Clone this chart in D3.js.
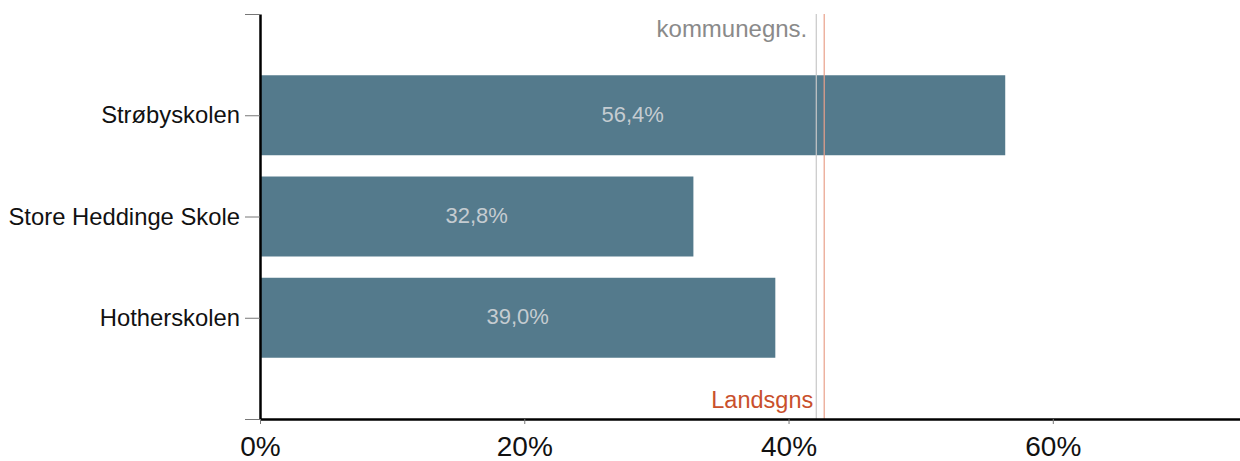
<!DOCTYPE html>
<html><head><meta charset="utf-8">
<script src="https://cdn.jsdelivr.net/npm/d3@7"></script>
<style>body{margin:0;background:#fff}svg{display:block;font-family:"Liberation Sans",Arial,sans-serif}</style>
</head><body><svg id="c" width="1240" height="461"></svg>
<script>
const categories = ["Strøbyskolen", "Store Heddinge Skole", "Hotherskolen"];
const values = [56.4, 32.8, 39.0];
const valueLabels = ["56,4%", "32,8%", "39,0%"];
const xTicks = [0, 20, 40, 60];
const refNames = ["kommunegns.", "Landsgns"];
const refValues = [42.1, 42.7];

const svg = d3.select("#c");
const x = d3.scaleLinear().domain([0, 75]).range([260, 1251]);
const y = d3.scaleLinear().domain([0, 4]).range([14, 419]);
const step = y(1) - y(0);
const bh = step * 0.79;

// bars
svg.selectAll("rect.bar").data(values).enter().append("rect")
  .attr("x", x(0)).attr("y", (d, i) => y(i + 1) - bh / 2)
  .attr("width", d => x(d) - x(0)).attr("height", bh)
  .attr("fill", "#547a8c");

svg.selectAll("text.val").data(values).enter().append("text")
  .attr("x", d => (x(0) + x(d)) / 2).attr("y", (d, i) => y(i + 1) - 1)
  .attr("dy", "0.35em").attr("text-anchor", "middle")
  .attr("font-size", 22).attr("fill", "#c5ccd1")
  .text((d, i) => valueLabels[i]);

// reference lines
const refColors = ["#c8c8c8", "#e9a08a"];
svg.selectAll("line.ref").data(refValues).enter().append("line")
  .attr("x1", d => x(d)).attr("x2", d => x(d))
  .attr("y1", y(0)).attr("y2", y(4))
  .attr("stroke", (d, i) => refColors[i]).attr("stroke-width", 1.2);
svg.append("text").attr("x", x(refValues[0]) - 9).attr("y", 37)
  .attr("text-anchor", "end").attr("font-size", 24).attr("fill", "#8a8a8a").text(refNames[0]);
svg.append("text").attr("x", x(refValues[1]) - 11).attr("y", 408)
  .attr("text-anchor", "end").attr("font-size", 23.5).attr("fill", "#c9502c").text(refNames[1]);

// y axis
const yAxis = d3.axisLeft(y).tickValues([0, 1, 2, 3, 4])
  .tickFormat(i => categories[i - 1] || "").tickSize(15).tickPadding(5).tickSizeOuter(0);
const gy = svg.append("g").attr("transform", `translate(${x(0)},0)`).call(yAxis);
gy.select(".domain").attr("stroke", "#000").attr("stroke-width", 2.5);
gy.selectAll(".tick line").attr("stroke", "#777");
gy.selectAll(".tick text").attr("font-size", 23.8).attr("fill", "#111")
  .attr("font-family", "'Liberation Sans',Arial,sans-serif");

// x axis
const xAxis = d3.axisBottom(x).tickValues(xTicks).tickFormat(d => d + "%")
  .tickSize(5).tickSizeOuter(0);
const gx = svg.append("g").attr("transform", `translate(0,${y(4)})`).call(xAxis);
gx.select(".domain").attr("stroke", "#000").attr("stroke-width", 2.5);
gx.selectAll(".tick line").attr("stroke", "#777");
gx.selectAll(".tick text").attr("font-size", 28).attr("fill", "#111")
  .attr("font-family", "'Liberation Sans',Arial,sans-serif")
  .attr("y", 37).attr("dy", 0);
</script></body></html>
